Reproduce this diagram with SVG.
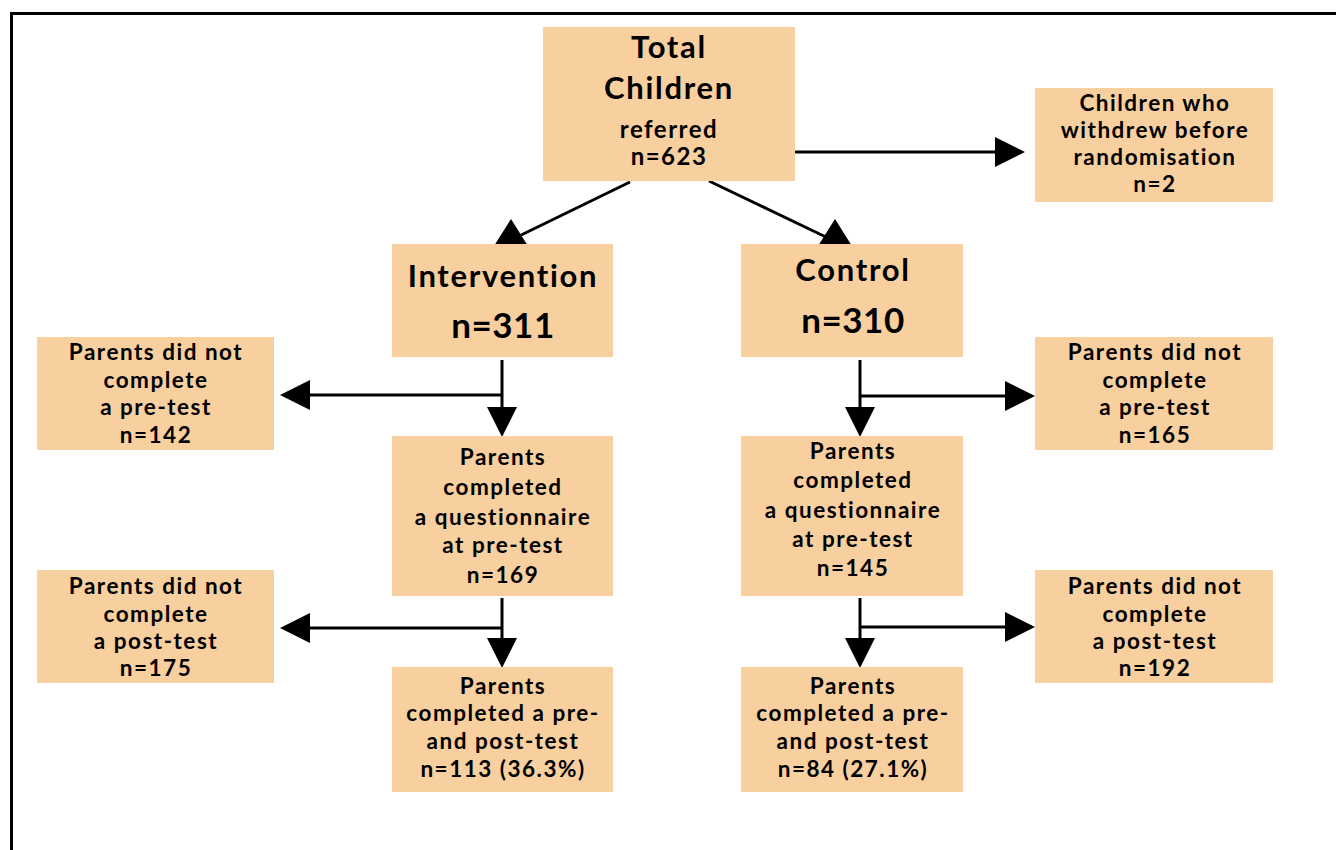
<svg xmlns="http://www.w3.org/2000/svg" width="1336" height="850" viewBox="0 0 1336 850">
<style>
.box{fill:#F8CF9E;stroke:none}
text{font-family:Lato,"Open Sans","Liberation Sans",sans-serif;font-weight:bold;fill:#000;text-anchor:middle;font-size:22.5px;letter-spacing:1.5px}
.big{font-size:31px;letter-spacing:1.7px}
.num{font-size:35px;letter-spacing:0.5px}
.mid{font-size:24px;letter-spacing:1.5px}
.ln{stroke:#000;stroke-width:3;fill:none}
.ah{fill:#000}
</style>
<rect width="1336" height="850" fill="#fff"/>
<path d="M11.5 850 V13.5 H1336" fill="none" stroke="#000" stroke-width="3"/>
<g id="connectors">
<line class="ln" x1="795" y1="152" x2="1000" y2="152"/>
<polygon class="ah" points="1025,152 995,137 995,167"/>
<line class="ln" x1="630" y1="182" x2="515" y2="238"/>
<polygon class="ah" points="511,219 494,246 528,246"/>
<line class="ln" x1="709" y1="181" x2="828" y2="238"/>
<polygon class="ah" points="835,219 818,246 852,246"/>
<line class="ln" x1="502" y1="360" x2="502" y2="410"/>
<line class="ln" x1="502" y1="395" x2="305" y2="395"/>
<polygon class="ah" points="502,437 487,407 517,407"/>
<polygon class="ah" points="280,395 310,380 310,410"/>
<line class="ln" x1="502" y1="598" x2="502" y2="640"/>
<line class="ln" x1="502" y1="628" x2="305" y2="628"/>
<polygon class="ah" points="502,668 487,638 517,638"/>
<polygon class="ah" points="280,628 310,613 310,643"/>
<line class="ln" x1="860" y1="360" x2="860" y2="410"/>
<line class="ln" x1="860" y1="396" x2="1010" y2="396"/>
<polygon class="ah" points="860,437 845,407 875,407"/>
<polygon class="ah" points="1035,396 1005,381 1005,411"/>
<line class="ln" x1="860" y1="598" x2="860" y2="640"/>
<line class="ln" x1="860" y1="627" x2="1010" y2="627"/>
<polygon class="ah" points="860,668 845,638 875,638"/>
<polygon class="ah" points="1035,627 1005,612 1005,642"/>
</g>
<g id="total">
<rect class="box" x="543" y="27" width="252" height="154"/>
<text class="big" x="669" y="58">Total</text>
<text class="big" x="669" y="99">Children</text>
<text class="mid" x="669" y="138">referred</text>
<text class="mid" x="669" y="165">n=623</text>
</g>
<g id="withdrew">
<rect class="box" x="1035" y="88" width="238" height="114"/>
<text x="1155" y="111">Children who</text>
<text x="1155" y="138">withdrew before</text>
<text x="1155" y="165">randomisation</text>
<text x="1155" y="192">n=2</text>
</g>
<g id="intervention">
<rect class="box" x="392" y="244" width="221" height="113"/>
<text class="big" x="503" y="287">Intervention</text>
<text class="num" x="503" y="338">n=311</text>
</g>
<g id="control">
<rect class="box" x="741" y="244" width="222" height="113"/>
<text class="big" x="853" y="281">Control</text>
<text class="num" x="853" y="333">n=310</text>
</g>
<g id="int-no-pre">
<rect class="box" x="37" y="337" width="237" height="113"/>
<text x="156" y="360">Parents did not</text>
<text x="156" y="388">complete</text>
<text x="156" y="415">a pre-test</text>
<text x="156" y="443">n=142</text>
</g>
<g id="int-pre">
<rect class="box" x="392" y="436" width="221" height="160"/>
<text x="503" y="465">Parents</text>
<text x="503" y="495">completed</text>
<text x="503" y="525">a questionnaire</text>
<text x="503" y="553">at pre-test</text>
<text x="503" y="583">n=169</text>
</g>
<g id="ctl-no-pre">
<rect class="box" x="1035" y="337" width="238" height="113"/>
<text x="1155" y="360">Parents did not</text>
<text x="1155" y="388">complete</text>
<text x="1155" y="415">a pre-test</text>
<text x="1155" y="443">n=165</text>
</g>
<g id="ctl-pre">
<rect class="box" x="741" y="436" width="222" height="160"/>
<text x="853" y="459">Parents</text>
<text x="853" y="488">completed</text>
<text x="853" y="518">a questionnaire</text>
<text x="853" y="547">at pre-test</text>
<text x="853" y="576">n=145</text>
</g>
<g id="int-no-post">
<rect class="box" x="37" y="570" width="237" height="113"/>
<text x="156" y="594">Parents did not</text>
<text x="156" y="622">complete</text>
<text x="156" y="649">a post-test</text>
<text x="156" y="676">n=175</text>
</g>
<g id="ctl-no-post">
<rect class="box" x="1035" y="570" width="238" height="113"/>
<text x="1155" y="594">Parents did not</text>
<text x="1155" y="622">complete</text>
<text x="1155" y="649">a post-test</text>
<text x="1155" y="676">n=192</text>
</g>
<g id="int-final">
<rect class="box" x="392" y="667" width="221" height="125"/>
<text x="503" y="694">Parents</text>
<text x="503" y="721">completed a pre-</text>
<text x="503" y="749">and post-test</text>
<text x="503" y="777">n=113 (36.3%)</text>
</g>
<g id="ctl-final">
<rect class="box" x="741" y="667" width="222" height="125"/>
<text x="853" y="694">Parents</text>
<text x="853" y="721">completed a pre-</text>
<text x="853" y="749">and post-test</text>
<text x="853" y="777">n=84 (27.1%)</text>
</g>
</svg>
